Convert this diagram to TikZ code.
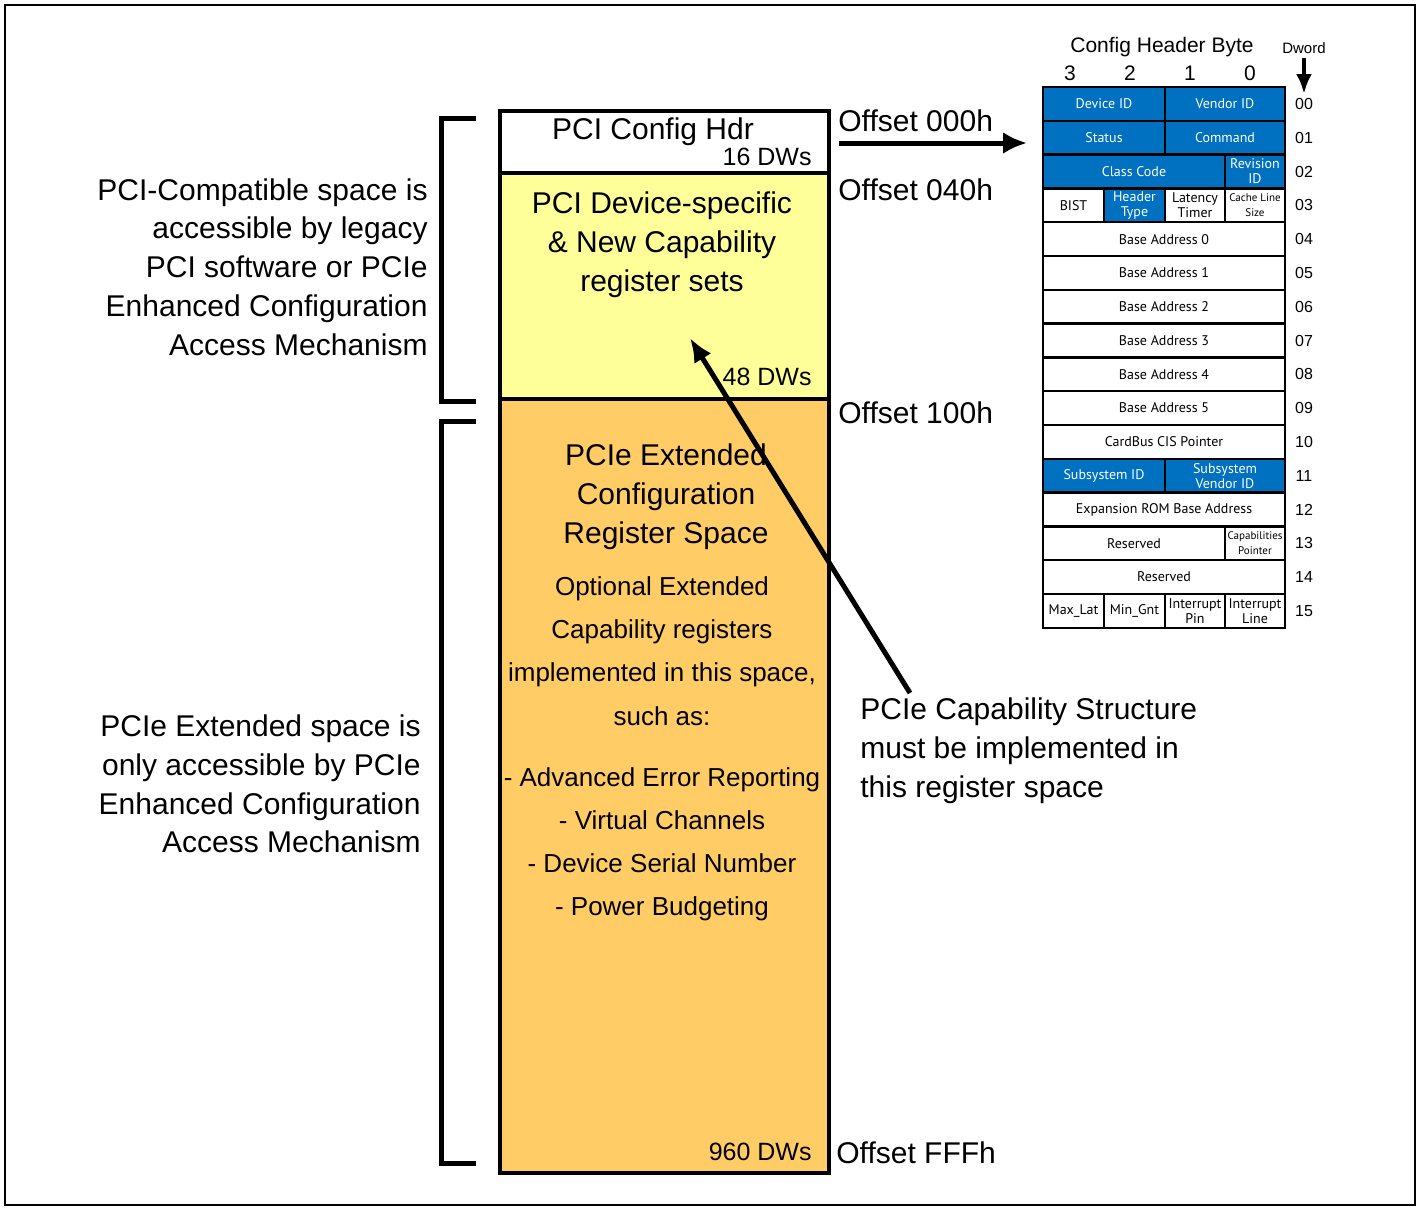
\documentclass[tikz,border=0pt]{standalone}
\usepackage{fontspec}
\usetikzlibrary{arrows.meta}
\setmainfont{Liberation Sans}
\newfontfamily\tabfont{PT Sans}
\definecolor{regblue}{RGB}{0,112,192}
\definecolor{pyel}{RGB}{255,255,153}
\definecolor{pora}{RGB}{255,204,102}
\begin{document}
\begin{tikzpicture}[x=0.5pt,y=-0.5pt,
  big/.style={font=\fontsize{15}{19.5}\selectfont,inner sep=0},
  reg/.style={draw,line width=1.2pt,font=\tabfont\fontsize{7}{7.5}\selectfont,align=center,inner sep=0},
  b/.style={reg,fill=regblue,text=white},
  w/.style={reg,fill=white},
  main/.style={draw,line width=2pt},
  brk/.style={line width=2.5pt},
  lbl/.style={font=\fontsize{12.5}{14}\selectfont,inner sep=0}]
\useasboundingbox (0,0) rectangle (1421,1210);
\draw[line width=1pt] (5,5) rectangle (1415,1205);
% main column
\draw[main,fill=white] (500,111) rectangle (829,173);
\draw[main,fill=pyel] (500,173) rectangle (829,399);
\draw[main,fill=pora] (500,399) rectangle (829,1173);
\node[big] (hdr) at (653,132) {PCI Config Hdr};
\node[lbl,anchor=east] (d16) at (812,157) {16 DWs};
\node[big,align=center,font=\fontsize{15}{19.5}\selectfont] (dev) at (662,245) {PCI Device-specific\\\& New Capability\\register sets};
\node[lbl,anchor=east] (d48) at (812,377) {48 DWs};
\node[big,align=center] (ext) at (666,497) {PCIe Extended\\Configuration\\Register Space};
\node[big,align=center,font=\fontsize{13}{21.7}\selectfont] (opt) at (662,651) {Optional Extended\\Capability registers\\implemented in this space,\\such as:};
\node[big,align=center,font=\fontsize{13}{21.5}\selectfont] (list) at (662,844) {- Advanced Error Reporting\\- Virtual Channels\\- Device Serial Number\\- Power Budgeting};
\node[lbl,anchor=east] (d960) at (812,1152) {960 DWs};
% offsets
\node[big,anchor=west] (o0) at (838,121) {Offset 000h};
\node[big,anchor=west] (o40) at (838,190) {Offset 040h};
\node[big,anchor=west] (o100) at (838,413) {Offset 100h};
\node[big,anchor=west] (offf) at (836,1153) {Offset FFFh};
\coordinate (a0s) at (839,143);
\coordinate (a0e) at (1027,143);
\draw[line width=2.5pt,-{Latex[length=12pt,width=11pt]}] (a0s) -- (a0e);
% brackets
\draw[brk] (476,118) -- (441,118) -- (441,401) -- (476,401);
\draw[brk] (476,421) -- (441,421) -- (441,1163) -- (476,1163);
\node[big,align=right,anchor=east,font=\fontsize{15}{19.4}\selectfont] (lt) at (428,267) {PCI-Compatible space is\\accessible by legacy\\PCI software or PCIe\\Enhanced Configuration\\Access Mechanism};
\node[big,align=right,anchor=east,font=\fontsize{15}{19.4}\selectfont] (lb) at (421,784) {PCIe Extended space is\\only accessible by PCIe\\Enhanced Configuration\\Access Mechanism};
% capability arrow
\node[big,align=left,anchor=west,font=\fontsize{15}{19.4}\selectfont] (cap) at (860,751) {PCIe Capability Structure\\must be implemented in\\this register space};
\coordinate (cs) at (910,693);
\coordinate (ce) at (690,338);
\draw[line width=2.5pt,-{Latex[length=12pt,width=10pt]}] (cs) -- (ce);
% table header
\node[font=\fontsize{10.5}{12}\selectfont] (chb) at (1162,47) {Config Header Byte};
\foreach \n/\x in {3/1070,2/1130,1/1190,0/1250}
  \node[font=\fontsize{10.5}{12}\selectfont] (byte\n) at (\x,73) {\n};
\node[font=\fontsize{7.5}{9}\selectfont] (dw) at (1304,48) {Dword};
\coordinate (dws) at (1304,58);
\coordinate (dwe) at (1304,94);
\draw[line width=2pt,-{Latex[length=10pt,width=8pt]}] (dws) -- (dwe);
% table rows
\def\H{33.8}
\def\xa{1043}\def\xb{1104}\def\xc{1165}\def\xd{1225}\def\xe{1285}
\newcommand\rc[5]{\node[#1,minimum width={(#3-#2)*0.5pt},minimum height={\H*0.5pt}] at ({(#2+#3)/2},{87+\H*(#4+0.5)}) {#5};}
\rc{b}{\xa}{\xc}{0}{Device ID}\rc{b}{\xc}{\xe}{0}{Vendor ID}
\rc{b}{\xa}{\xc}{1}{Status}\rc{b}{\xc}{\xe}{1}{Command}
\rc{b}{\xa}{\xd}{2}{Class Code}\rc{b}{\xd}{\xe}{2}{Revision\\ID}
\rc{w}{\xa}{\xb}{3}{BIST}\rc{b}{\xb}{\xc}{3}{Header\\Type}\rc{w}{\xc}{\xd}{3}{Latency\\Timer}\rc{w}{\xd}{\xe}{3}{\fontsize{5.5}{6.5}\selectfont Cache Line\\\fontsize{5.5}{6.5}\selectfont Size}
\rc{w}{\xa}{\xe}{4}{Base Address 0}
\rc{w}{\xa}{\xe}{5}{Base Address 1}
\rc{w}{\xa}{\xe}{6}{Base Address 2}
\rc{w}{\xa}{\xe}{7}{Base Address 3}
\rc{w}{\xa}{\xe}{8}{Base Address 4}
\rc{w}{\xa}{\xe}{9}{Base Address 5}
\rc{w}{\xa}{\xe}{10}{CardBus CIS Pointer}
\rc{b}{\xa}{\xc}{11}{Subsystem ID}\rc{b}{\xc}{\xe}{11}{Subsystem\\Vendor ID}
\rc{w}{\xa}{\xe}{12}{Expansion ROM Base Address}
\rc{w}{\xa}{\xd}{13}{Reserved}\rc{w}{\xd}{\xe}{13}{\fontsize{5.5}{6.5}\selectfont Capabilities\\\fontsize{5.5}{6.5}\selectfont Pointer}
\rc{w}{\xa}{\xe}{14}{Reserved}
\rc{w}{\xa}{\xb}{15}{Max\_Lat}\rc{w}{\xb}{\xc}{15}{Min\_Gnt}\rc{w}{\xc}{\xd}{15}{Interrupt\\Pin}\rc{w}{\xd}{\xe}{15}{Interrupt\\Line}
\foreach \i/\t in {0/00,1/01,2/02,3/03,4/04,5/05,6/06,7/07,8/08,9/09,10/10,11/11,12/12,13/13,14/14,15/15}
  \node[font=\fontsize{8}{9}\selectfont] (dn\i) at (1304,{87+\H*(\i+0.5)}) {\t};
\end{tikzpicture}
\end{document}
